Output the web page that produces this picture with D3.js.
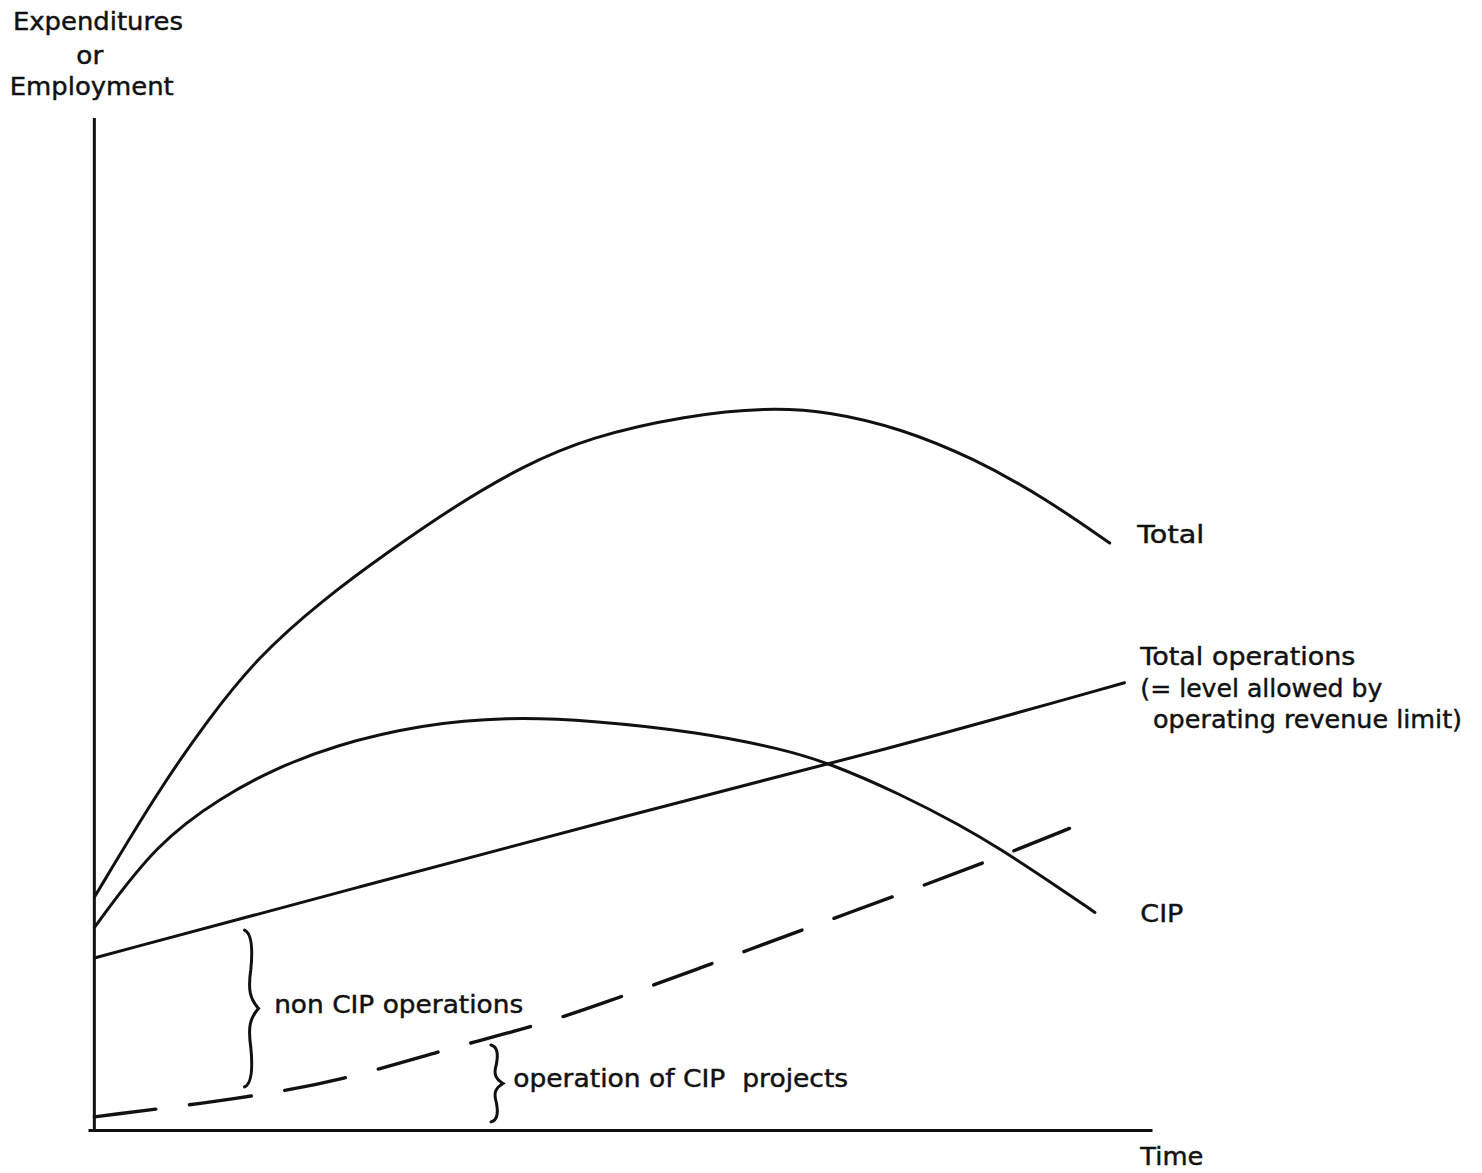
<!DOCTYPE html>
<html>
<head>
<meta charset="utf-8">
<script src="https://cdn.jsdelivr.net/npm/d3@7"></script>
<style>
  html, body { margin: 0; padding: 0; background: #fff; }
  svg { display: block; }
  text { font-family: "DejaVu Sans", "Liberation Sans", sans-serif; fill: #111; stroke: #111; stroke-width: 0.45px; white-space: pre; }
</style>
</head>
<body>
<svg id="chart" width="1482" height="1173"></svg>
<script>
// ---- Data (time 0..100, level 0..100) ----
const totalT = [0, 5.9, 10.7, 15.4, 21.6, 28.0, 34.3, 40.5, 46.9, 56.0, 63.5, 69.6, 76.3, 83.1, 89.8, 96.0];
const totalV = [23.0, 33.3, 40.5, 46.7, 52.4, 57.3, 61.8, 65.6, 68.5, 70.6, 71.4, 71.0, 69.3, 66.4, 62.5, 58.0];

const cipT = [0, 5.9, 12.2, 16.9, 22.6, 31.1, 39.0, 46.9, 57.3, 64.8, 69.4, 76.2, 81.9, 85.6, 90.4, 94.6];
const cipV = [20.0, 28.4, 33.0, 35.6, 38.0, 40.1, 40.8, 40.5, 39.3, 37.7, 36.3, 33.2, 30.1, 27.8, 24.5, 21.5];

const totalOpsT = [0, 25, 50, 75, 97.4];
const totalOpsV = [17.0, 24.0, 31.0, 37.6, 44.2];

const cipOpsT = [0, 13.9, 23.5, 33.6, 41.5, 47.8, 57.3, 66.7, 76.2, 85.6, 92.2];
const cipOpsV = [1.3, 3.1, 4.9, 8.1, 10.2, 12.4, 16.0, 19.7, 23.3, 27.0, 29.8];

// Labels
const axisTitleLines = ["Expenditures", "or", "Employment"];
const xAxisTitle = "Time";
const seriesLabels = ["Total", "Total operations", "(= level allowed by", "operating revenue limit)", "CIP"];
const braceLabels = ["non CIP operations", "operation of CIP  projects"];
// braces: time position, lower and upper level
const braceT = [14.2, 37.5];
const braceLo = [4.25, 0.8];
const braceHi = [19.76, 8.4];

// ---- Layout ----
const svg = d3.select("#chart");
const x = d3.scaleLinear().domain([-0.6, 100]).range([88, 1152]);
const y = d3.scaleLinear().domain([0, 100]).range([1130, 118]);

// Axes (no ticks)
const gx = svg.append("g").attr("transform", `translate(0,${y(0)})`)
  .call(d3.axisBottom(x).ticks(0).tickSizeOuter(0));
const gy = svg.append("g").attr("transform", `translate(${x(0)},0)`)
  .call(d3.axisLeft(y).ticks(0).tickSizeOuter(0));
[gx, gy].forEach(g => g.select(".domain").attr("stroke", "#111").attr("stroke-width", 3));
gy.select(".domain").attr("d", `M0,${y(0) + 1}V${y(100)}`);

const line = d3.line().x(d => x(d[0])).y(d => y(d[1])).curve(d3.curveBasis);
const zip = (a, b) => a.map((v, i) => [v, b[i]]);

const series = [
  { pts: zip(totalT, totalV), dash: false },
  { pts: zip(cipT, cipV), dash: false },
  { pts: zip(totalOpsT, totalOpsV), dash: false },
  { pts: zip(cipOpsT, cipOpsV), dash: true }
];
const paths = svg.append("g").selectAll("path").data(series).join("path")
  .attr("d", d => line(d.pts))
  .attr("fill", "none")
  .attr("stroke", "#111")
  .attr("stroke-width", d => d.dash ? 3.4 : 3)
  .attr("stroke-linecap", "round");

// dashed: fit pattern so the line starts and ends with a dash
paths.filter(d => d.dash).each(function () {
  const L = this.getTotalLength();
  const dash0 = 60, gap0 = 33;
  const n = Math.round((L - dash0) / (dash0 + gap0));
  const p = (L - dash0) / n;
  const d = dash0 * p / (dash0 + gap0), g = p - d;
  const arr = [];
  for (let i = 0; i < n; i++) arr.push(d, g);
  arr.push(L - n * p + 1, 0);
  d3.select(this).attr("stroke-dasharray", arr.join(","));
});

// Braces
function bracePath(bx, y0, y1, w) {
  const h = y1 - y0, ym = (y0 + y1) / 2;
  const m = bx + w * 0.45;
  return `M${bx},${y0}` +
    `C${bx + w * 0.5},${y0 + h * 0.02} ${m + 2},${y0 + h * 0.12} ${m},${y0 + h * 0.25}` +
    `C${m - 3},${y0 + h * 0.38} ${m - 1},${ym - h * 0.06} ${bx + w},${ym}` +
    `C${m - 1},${ym + h * 0.06} ${m - 3},${y1 - h * 0.38} ${m},${y1 - h * 0.25}` +
    `C${m + 2},${y1 - h * 0.12} ${bx + w * 0.5},${y1 - h * 0.02} ${bx},${y1}`;
}
svg.append("g").selectAll("path").data(braceT).join("path")
  .attr("d", (t, i) => bracePath(x(t), y(braceHi[i]), y(braceLo[i]), i === 0 ? 14 : 12))
  .attr("fill", "none").attr("stroke", "#111").attr("stroke-width", 3)
  .attr("stroke-linecap", "round");

// Text labels: text, left x (time), baseline (level), width px
function label(txt, t, v, len) {
  svg.append("text").attr("x", x(t)).attr("y", y(v))
    .attr("font-size", 25)
    .attr("xml:space", "preserve")
    .attr("textLength", len).attr("lengthAdjust", "spacingAndGlyphs")
    .text(txt);
}
label(axisTitleLines[0], -7.7, 108.67, 170);
label(axisTitleLines[1], -1.7, 105.3, 27);
label(axisTitleLines[2], -8.0, 102.27, 164);
label(xAxisTitle, 98.9, -3.45, 63);

label(seriesLabels[0], 98.6, 58.0, 67);
label(seriesLabels[1], 98.9, 45.95, 215);
label(seriesLabels[2], 98.9, 42.8, 242);
label(seriesLabels[3], 100.1, 39.73, 309);
label(seriesLabels[4], 98.9, 20.6, 43);

label(braceLabels[0], 17.0, 11.56, 249);
label(braceLabels[1], 39.6, 4.25, 335);
</script>
</body>
</html>
